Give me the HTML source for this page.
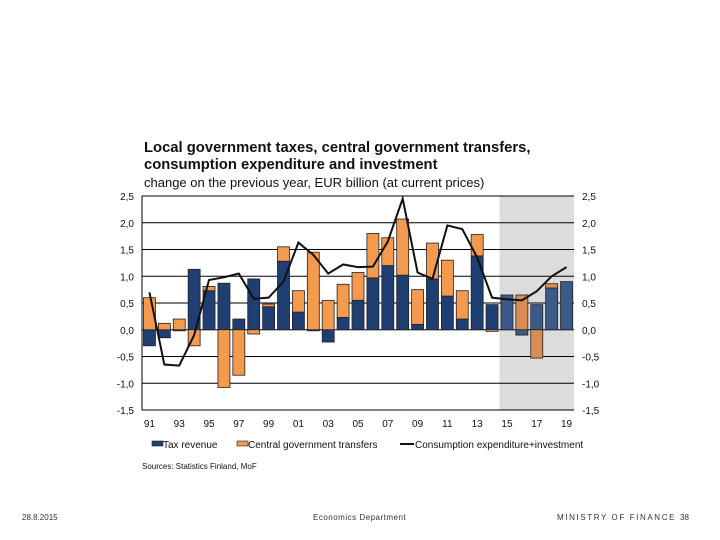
<!DOCTYPE html>
<html><head><meta charset="utf-8"><style>
body{margin:0;width:720px;height:540px;background:#fff;font-family:"Liberation Sans",sans-serif;overflow:hidden;position:relative}
.t{position:absolute;white-space:nowrap}
</style></head><body>
<div class="t" style="left:144px;top:140px;font-size:14.8px;font-weight:bold;line-height:17px;color:#111">Local government taxes, central government transfers,<br>consumption expenditure and investment</div>
<div class="t" style="left:144px;top:175px;font-size:13px;color:#111">change on the previous year, EUR billion (at current prices)</div>
<svg id="c" width="720" height="540" style="position:absolute;left:0;top:0"></svg>
<div class="t" style="left:142px;top:462px;font-size:8px;color:#111">Sources: Statistics Finland, MoF</div>
<div class="t" style="left:22px;top:513px;font-size:8px;color:#333">28.8.2015</div>
<div class="t" style="left:313px;top:513px;font-size:8px;color:#333;letter-spacing:0.5px">Economics Department</div>
<div class="t" style="left:557px;top:513px;font-size:8px;color:#333;letter-spacing:1.6px">MINISTRY OF FINANCE</div>
<div class="t" style="left:680px;top:513px;font-size:8px;color:#333">38</div>
<script>
const years=["91","92","93","94","95","96","97","98","99","00","01","02","03","04","05","06","07","08","09","10","11","12","13","14","15","16","17","18","19"];
const taxRevenue=[-0.3,-0.15,-0.02,1.13,0.73,0.87,0.2,0.95,0.43,1.28,0.33,-0.02,-0.23,0.23,0.55,0.97,1.2,1.02,0.1,0.95,0.63,0.2,1.38,0.47,0.65,-0.1,0.47,0.78,0.9];
const transfers=[0.6,0.12,0.2,-0.3,0.08,-1.08,-0.85,-0.08,0.05,0.27,0.4,1.45,0.55,0.62,0.52,0.83,0.52,1.05,0.65,0.67,0.67,0.53,0.4,-0.03,0,0.65,-0.53,0.08,0];
const consumption=[0.7,-0.65,-0.67,-0.1,0.93,0.98,1.05,0.58,0.6,0.9,1.63,1.4,1.05,1.22,1.17,1.18,1.65,2.45,1.07,0.95,1.95,1.88,1.35,0.6,0.57,0.55,0.72,1.0,1.17];
const yTicks=[2.5,2.0,1.5,1.0,0.5,0.0,-0.5,-1.0,-1.5];
const xLabelYears=["91","93","95","97","99","01","03","05","07","09","11","13","15","17","19"];
const forecastStart="15";
const NS="http://www.w3.org/2000/svg",svg=document.getElementById('c');
const L=142,R=574,T=196,B=410,yMin=-1.5,yMax=2.5;
const step=(R-L)/years.length;
const X=i=>L+step*(i+0.5);
const Y=v=>B-(v-yMin)/(yMax-yMin)*(B-T);
function mk(t,a){const e=document.createElementNS(NS,t);for(const k in a)e.setAttribute(k,a[k]);svg.appendChild(e);return e;}
const fi=years.indexOf(forecastStart);
let sh=mk('rect',{x:X(fi)-step/2,y:T,width:R-(X(fi)-step/2),height:B-T,fill:'#dcdcdc'});


yTicks.forEach(v=>{
 let g=mk('line',{x1:L,x2:R,y1:Y(v),y2:Y(v),stroke:'#000','stroke-width':1});
 
 
 const s=v.toFixed(1).replace('.',',');
 let a=mk('text',{x:L-8,y:Y(v)+4,'text-anchor':'end','font-size':10,fill:'#111'});a.textContent=s;
 
 
 let b=mk('text',{x:R+8,y:Y(v)+4,'font-size':10,fill:'#111'});b.textContent=s;
 
 
});
let ax=mk('line',{x1:L,x2:L,y1:T,y2:B,stroke:'#000'});


const bw=12;
years.forEach((yr,i)=>{
 const f=i>=fi;
 const tc=f?'#3a5b8a':'#1f3f73', oc=f?'#d98d55':'#f39a4f';
 let pos=0,neg=0;
 [[taxRevenue[i],tc,'bar-tax-'+yr],[transfers[i],oc,'bar-transfer-'+yr]].forEach(([v,c,n])=>{
  if(v===0)return;
  let y0,y1;
  if(v>0){y0=pos;y1=pos+v;pos=y1;}else{y0=neg;y1=neg+v;neg=y1;}
  let r=mk('rect',{x:X(i)-bw/2,y:Math.min(Y(y0),Y(y1)),width:bw,height:Math.abs(Y(y1)-Y(y0)),fill:c,stroke:'#222','stroke-width':0.8});
  
  
 });
});
let p=mk('polyline',{points:consumption.map((v,i)=>X(i)+','+Y(v)).join(' '),fill:'none',stroke:'#111','stroke-width':2});


xLabelYears.forEach(yr=>{
 const i=years.indexOf(yr);
 let t=mk('text',{x:X(i),y:B+17,'text-anchor':'middle','font-size':10,fill:'#111'});t.textContent=yr;
 
 
});
let r1=mk('rect',{x:152,y:441,width:11,height:5,fill:'#1f3f73',stroke:'#222','stroke-width':0.6});


let t1=mk('text',{x:163,y:448,'font-size':10,fill:'#111'});t1.textContent='Tax revenue';


let r2=mk('rect',{x:237,y:441,width:11,height:5,fill:'#f39a4f',stroke:'#222','stroke-width':0.6});


let t2=mk('text',{x:248,y:448,'font-size':10,fill:'#111'});t2.textContent='Central government transfers';


let l3=mk('line',{x1:400,x2:414,y1:444,y2:444,stroke:'#111','stroke-width':2});


let t3=mk('text',{x:415,y:448,'font-size':10,fill:'#111'});t3.textContent='Consumption expenditure+investment';


</script>
</body></html>
